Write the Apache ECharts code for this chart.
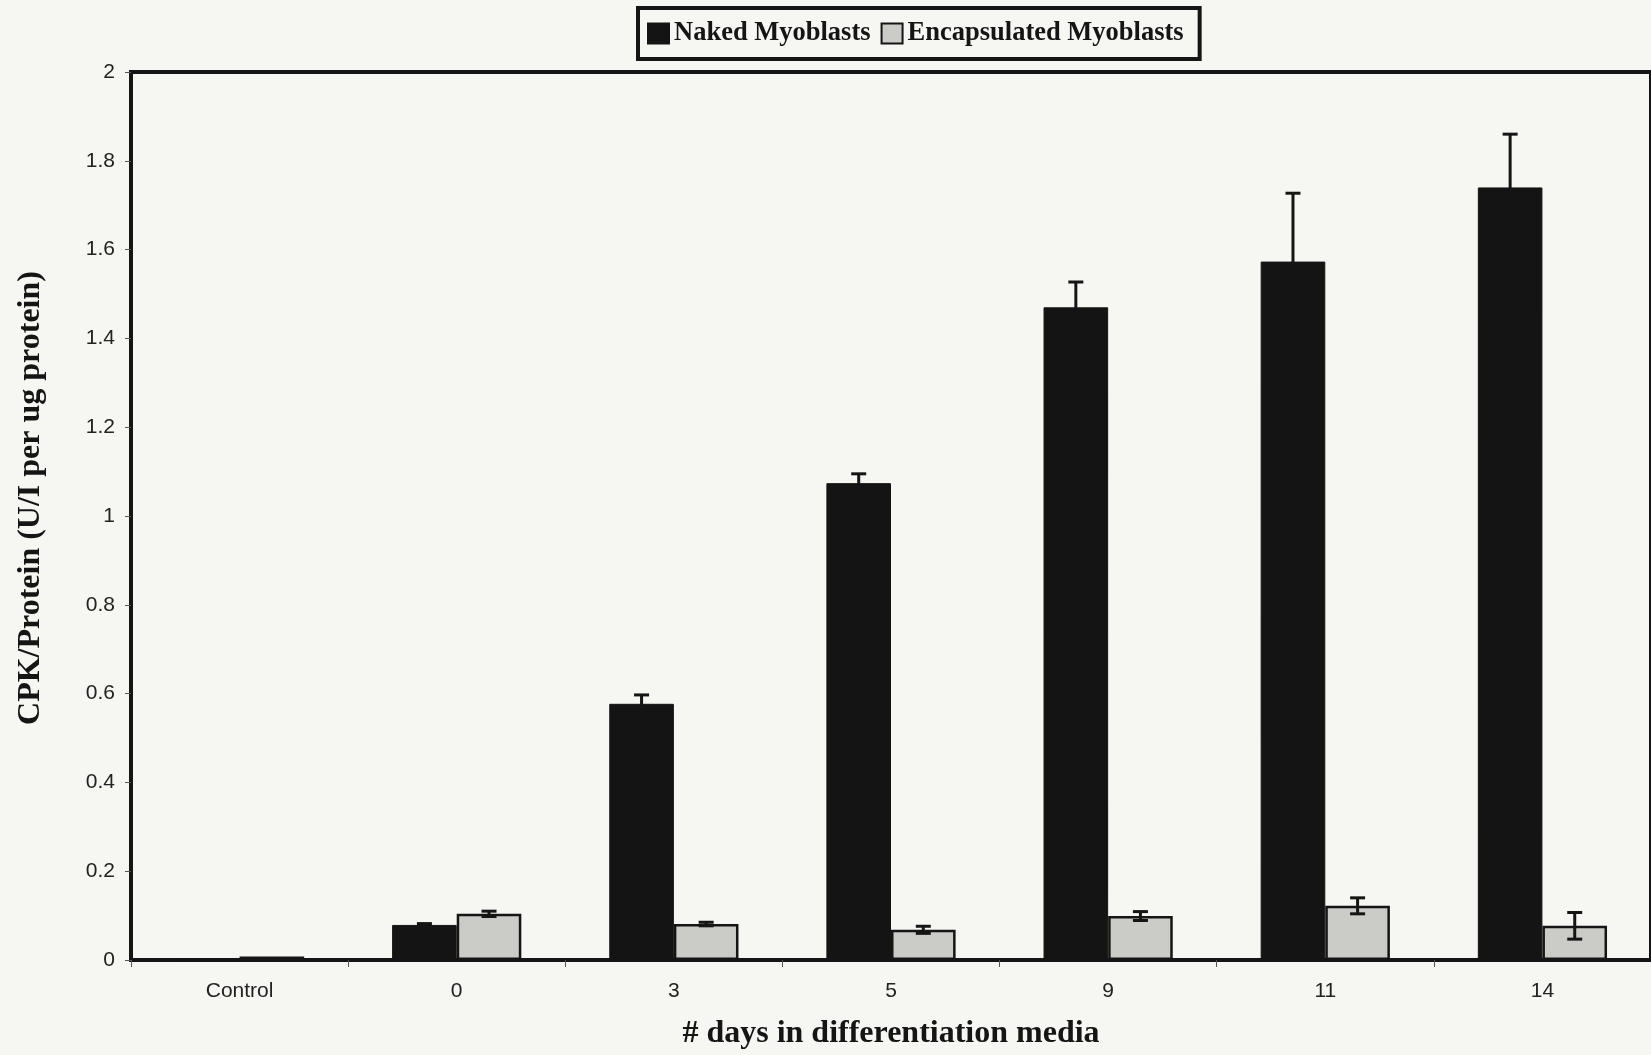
<!DOCTYPE html>
<html>
<head>
<meta charset="utf-8">
<script src="https://cdn.jsdelivr.net/npm/echarts@6/dist/echarts.min.js"></script>
<style>
html,body{margin:0;padding:0;background:#f6f6f3;}
#chart{width:1651px;height:1055px;}
</style>
</head>
<body>
<div id="chart"></div>
<script>
const categories = ['Control', '0', '3', '5', '9', '11', '14'];
const nakedValues = [0, 0.079, 0.577, 1.074, 1.470, 1.573, 1.740];
const nakedErrors = [0, 0.003, 0.020, 0.021, 0.057, 0.154, 0.120];
const encapValues = [0.008, 0.104, 0.081, 0.068, 0.099, 0.122, 0.077];
const encapErrors = [0, 0.006, 0.004, 0.008, 0.010, 0.018, 0.030];
const seriesNames = ['Naked Myoblasts', 'Encapsulated Myoblasts'];
const xTitle = '# days in differentiation media';
const yTitle = 'CPK/Protein (U/I per ug protein)';

const CAT_GAP = 0.405;
function errorRenderer(values, errors, side) {
  return function (params, api) {
    const i = api.value(0);
    const v = values[i], e = errors[i];
    if (!e) return null;
    const band = api.size([1, 0])[0];
    const w = band * (1 - CAT_GAP) / 2;
    const c = api.coord([i, v]);
    const x = c[0] + side * w / 2;
    const top = api.coord([i, v + e])[1];
    const bot = api.coord([i, v - e])[1];
    const cap = 7.5;
    const st = {stroke: '#151515', lineWidth: 3};
    return {
      type: 'group',
      children: [
        {type: 'line', shape: {x1: x, y1: top, x2: x, y2: bot}, style: st},
        {type: 'line', shape: {x1: x - cap, y1: top, x2: x + cap, y2: top}, style: st},
        {type: 'line', shape: {x1: x - cap, y1: bot, x2: x + cap, y2: bot}, style: st}
      ]
    };
  };
}

const chart = echarts.init(document.getElementById('chart'));
chart.setOption({
  backgroundColor: '#f6f6f3',
  animation: false,
  legend: {
    data: seriesNames,
    icon: 'rect',
    left: 638,
    top: 8,
    padding: [12, 16, 12, 9],
    itemWidth: 21,
    itemHeight: 20,
    itemGap: 10,
    borderColor: '#151515',
    borderWidth: 4,
    textStyle: {fontFamily: 'Liberation Serif', fontWeight: 'bold', fontSize: 26.5, color: '#151515'}
  },
  graphic: [{
    type: 'text',
    x: 31, y: 498,
    rotation: Math.PI / 2,
    style: {
      text: yTitle,
      fontFamily: 'Liberation Serif', fontWeight: 'bold', fontSize: 32, fill: '#151515',
      align: 'center', verticalAlign: 'middle'
    }
  }],
  grid: {
    left: 131, top: 72, width: 1527.4, height: 888,
    show: true, borderColor: '#151515', borderWidth: 4, backgroundColor: 'transparent'
  },
  xAxis: {
    type: 'category',
    data: categories,
    name: xTitle,
    nameLocation: 'middle',
    nameGap: 58,
    nameTextStyle: {fontFamily: 'Liberation Serif', fontWeight: 'bold', fontSize: 32, color: '#151515'},
    axisLine: {lineStyle: {color: '#151515', width: 4}},
    axisTick: {show: true, length: 7, lineStyle: {color: '#555', width: 1}},
    axisLabel: {fontFamily: 'Liberation Sans', fontSize: 21, color: '#222', margin: 21}
  },
  yAxis: {
    type: 'value',
    min: 0, max: 2, interval: 0.2,
    axisLine: {show: true, lineStyle: {color: '#151515', width: 4}},
    axisTick: {show: true, length: 6, lineStyle: {color: '#555', width: 1}},
    axisLabel: {fontFamily: 'Liberation Sans', fontSize: 21, color: '#222', margin: 16,
      formatter: v => String(Math.round(v * 10) / 10)},
    splitLine: {show: false}
  },
  series: [
    {
      name: seriesNames[0], type: 'bar', data: nakedValues,
      barGap: '0%', barCategoryGap: (CAT_GAP * 100) + '%',
      itemStyle: {color: '#141414', borderColor: '#141414', borderWidth: 1}
    },
    {
      name: seriesNames[1], type: 'bar', data: encapValues,
      barGap: '0%', barCategoryGap: (CAT_GAP * 100) + '%',
      itemStyle: {color: '#cbcbc8', borderColor: '#151515', borderWidth: 2.5}
    },
    {
      type: 'custom', renderItem: errorRenderer(nakedValues, nakedErrors, -1),
      data: categories.map((c, i) => [i]), z: 5, silent: true
    },
    {
      type: 'custom', renderItem: errorRenderer(encapValues, encapErrors, 1),
      data: categories.map((c, i) => [i]), z: 5, silent: true
    }
  ]
});
</script>
</body>
</html>
